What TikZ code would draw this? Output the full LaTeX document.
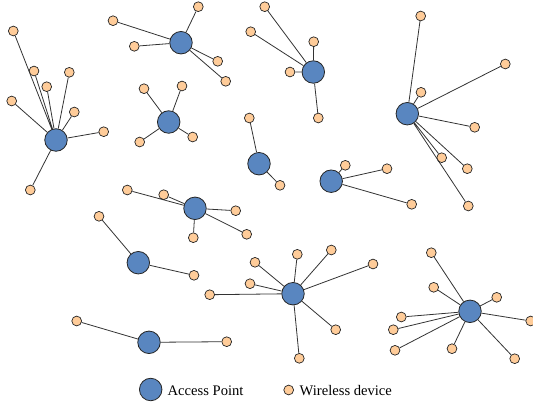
\documentclass[tikz,border=0pt]{standalone}
\usepackage{fontspec}
\setmainfont{Liberation Serif}
\definecolor{apblue}{RGB}{89,134,192}
\definecolor{devpeach}{RGB}{255,204,153}
\definecolor{edgegray}{RGB}{51,51,51}

\begin{document}
\begin{tikzpicture}[x=1pt,y=-1pt]
        \tikzstyle{every node}=[inner sep=0pt]
        \tikzstyle{apnode}=[draw=black!85,fill=apblue,circle,minimum size=22.5pt,line width=0.8pt]
        \tikzstyle{devnode}=[draw=black!85,fill=devpeach,circle,minimum size=9.8pt,line width=0.7pt]
        \tikzstyle{link}=[draw=edgegray,line width=0.8pt]
        \useasboundingbox (0,0) rectangle (533,405);

        % cluster left
        \node[apnode] (ap1) at (56,140) {};
        \node[devnode] (d1a) at (13.3,31) {};
        \node[devnode] (d1b) at (34,71) {};
        \node[devnode] (d1c) at (69.3,72.3) {};
        \node[devnode] (d1d) at (46.7,86.7) {};
        \node[devnode] (d1e) at (11.7,101) {};
        \node[devnode] (d1f) at (74.3,112) {};
        \node[devnode] (d1g) at (103.7,131.7) {};
        \node[devnode] (d1h) at (30.3,190) {};
        \draw[link] (ap1) -- (d1a) (ap1) -- (d1b) (ap1) -- (d1c) (ap1) -- (d1d)
                    (ap1) -- (d1e) (ap1) -- (d1f) (ap1) -- (d1g) (ap1) -- (d1h);

        % cluster top
        \node[apnode] (ap2) at (181,42.7) {};
        \node[devnode] (d2a) at (198.3,6.7) {};
        \node[devnode] (d2b) at (113,20.7) {};
        \node[devnode] (d2c) at (134.3,46.3) {};
        \node[devnode] (d2d) at (217.7,61.3) {};
        \node[devnode] (d2e) at (225.7,81.3) {};
        \draw[link] (ap2) -- (d2a) (ap2) -- (d2b) (ap2) -- (d2c) (ap2) -- (d2d) (ap2) -- (d2e);

        % cluster cross
        \node[apnode] (ap3) at (168.7,122) {};
        \node[devnode] (d3a) at (144,88.7) {};
        \node[devnode] (d3b) at (182,86) {};
        \node[devnode] (d3c) at (139.7,142) {};
        \node[devnode] (d3d) at (192.7,137) {};
        \draw[link] (ap3) -- (d3a) (ap3) -- (d3b) (ap3) -- (d3c) (ap3) -- (d3d);

        % cluster pair
        \node[apnode] (ap4) at (259,163.7) {};
        \node[devnode] (d4a) at (249.3,118) {};
        \node[devnode] (d4b) at (280,185.3) {};
        \draw[link] (ap4) -- (d4a) (ap4) -- (d4b);

        % cluster top middle
        \node[apnode] (ap5) at (313.3,72) {};
        \node[devnode] (d5a) at (264.7,6.7) {};
        \node[devnode] (d5b) at (250.7,31.7) {};
        \node[devnode] (d5c) at (313.7,41.7) {};
        \node[devnode] (d5d) at (290,72) {};
        \node[devnode] (d5e) at (318.3,118) {};
        \draw[link] (ap5) -- (d5a) (ap5) -- (d5b) (ap5) -- (d5c) (ap5) -- (d5d) (ap5) -- (d5e);

        % cluster right
        \node[apnode] (ap6) at (407.3,113.7) {};
        \node[devnode] (d6a) at (420.7,16) {};
        \node[devnode] (d6b) at (505.3,64) {};
        \node[devnode] (d6c) at (421,92.3) {};
        \node[devnode] (d6d) at (474.7,127.3) {};
        \node[devnode] (d6e) at (441.7,157.7) {};
        \node[devnode] (d6f) at (467.3,168.7) {};
        \node[devnode] (d6g) at (468.3,206) {};
        \draw[link] (ap6) -- (d6a) (ap6) -- (d6b) (ap6) -- (d6c) (ap6) -- (d6d)
                    (ap6) -- (d6e) (ap6) -- (d6f) (ap6) -- (d6g);

        % cluster three
        \node[apnode] (ap7) at (331.2,181.2) {};
        \node[devnode] (d7a) at (345.3,165.3) {};
        \node[devnode] (d7b) at (387,168.7) {};
        \node[devnode] (d7c) at (411.7,204.3) {};
        \draw[link] (ap7) -- (d7a) (ap7) -- (d7b) (ap7) -- (d7c);

        % cluster middle
        \node[apnode] (ap8) at (195,208.3) {};
        \node[devnode] (d8a) at (127.3,190) {};
        \node[devnode] (d8b) at (163.7,194.7) {};
        \node[devnode] (d8c) at (235.7,210.7) {};
        \node[devnode] (d8d) at (193.3,237.7) {};
        \node[devnode] (d8e) at (246.7,234.3) {};
        \draw[link] (ap8) -- (d8a) (ap8) -- (d8b) (ap8) -- (d8c) (ap8) -- (d8d) (ap8) -- (d8e);

        % cluster lower left
        \node[apnode] (ap9) at (138.3,262.7) {};
        \node[devnode] (d9a) at (99,216.3) {};
        \node[devnode] (d9b) at (194,275.3) {};
        \draw[link] (ap9) -- (d9a) (ap9) -- (d9b);

        % cluster bottom
        \node[apnode] (ap10) at (149,342.3) {};
        \node[devnode] (d10a) at (76.7,321) {};
        \node[devnode] (d10b) at (226.7,341.7) {};
        \draw[link] (ap10) -- (d10a) (ap10) -- (d10b);

        % cluster bottom middle
        \node[apnode] (ap11) at (293,293.7) {};
        \node[devnode] (d11a) at (255,262.3) {};
        \node[devnode] (d11b) at (297.3,254.3) {};
        \node[devnode] (d11c) at (331.3,250) {};
        \node[devnode] (d11d) at (373,264) {};
        \node[devnode] (d11e) at (250,283.7) {};
        \node[devnode] (d11f) at (209.7,294.7) {};
        \node[devnode] (d11g) at (335.7,329.7) {};
        \node[devnode] (d11h) at (299.3,358.3) {};
        \draw[link] (ap11) -- (d11a) (ap11) -- (d11b) (ap11) -- (d11c) (ap11) -- (d11d)
                    (ap11) -- (d11e) (ap11) -- (d11f) (ap11) -- (d11g) (ap11) -- (d11h);

        % cluster bottom right
        \node[apnode] (ap12) at (470,311.3) {};
        \node[devnode] (d12a) at (431.3,252.7) {};
        \node[devnode] (d12b) at (433.7,287.3) {};
        \node[devnode] (d12c) at (496.7,297.3) {};
        \node[devnode] (d12d) at (530.7,321) {};
        \node[devnode] (d12e) at (401.3,317) {};
        \node[devnode] (d12f) at (393.3,329.7) {};
        \node[devnode] (d12g) at (395,350.3) {};
        \node[devnode] (d12h) at (452,348.7) {};
        \node[devnode] (d12i) at (514.7,358.7) {};
        \draw[link] (ap12) -- (d12a) (ap12) -- (d12b) (ap12) -- (d12c) (ap12) -- (d12d) (ap12) -- (d12e)
                    (ap12) -- (d12f) (ap12) -- (d12g) (ap12) -- (d12h) (ap12) -- (d12i);

        % legend
        \node[apnode] (legap) at (150.7,389.5) {};
        \node[anchor=base west,font=\fontsize{14.6}{17}\selectfont] (legaptext) at (167.5,395) {Access Point};
        \node[devnode] (legdev) at (288.7,390) {};
        \node[anchor=base west,font=\fontsize{14.6}{17}\selectfont] (legdevtext) at (299.5,395) {Wireless device};
\end{tikzpicture}
\end{document}
